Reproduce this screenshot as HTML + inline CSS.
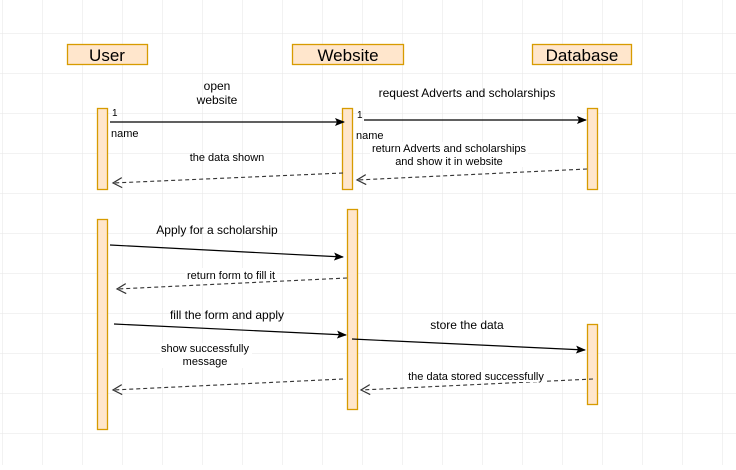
<!DOCTYPE html>
<html><head><style>
body{margin:0;width:736px;height:465px;overflow:hidden;background:#fff;font-family:"Liberation Sans",Arial,sans-serif;}
</style></head><body>
<svg width="736" height="465" xmlns="http://www.w3.org/2000/svg" font-family="Liberation Sans, Arial, sans-serif">
<defs>
<pattern id="g" x="2" y="33" width="40" height="40" patternUnits="userSpaceOnUse">
<path d="M0 0H40M0 0V40" stroke="#e6e6e6" stroke-width="1" fill="none"/>
</pattern>
<marker id="f" markerWidth="10" markerHeight="8" refX="9" refY="4" orient="auto" markerUnits="userSpaceOnUse"><path d="M0 0L10 4L0 8L2 4Z" fill="#000"/></marker>
<marker id="o" markerWidth="12" markerHeight="12" refX="10" refY="6" orient="auto" markerUnits="userSpaceOnUse"><path d="M1 1L10 6L1 11" fill="none" stroke="#333" stroke-width="1.2"/></marker>
</defs>
<rect width="736" height="465" fill="url(#g)"/>
<g fill="#ffe6cc" stroke="#d79b00" stroke-width="1.3">
<rect x="67.5" y="44.5" width="80" height="20"/>
<rect x="292.5" y="44.5" width="111" height="20"/>
<rect x="532.5" y="44.5" width="99" height="20"/>
<rect x="97.5" y="108.5" width="10" height="81"/>
<rect x="342.5" y="108.5" width="10" height="81"/>
<rect x="587.5" y="108.5" width="10" height="81"/>
<rect x="97.5" y="219.5" width="10" height="210"/>
<rect x="347.5" y="209.5" width="10" height="200"/>
<rect x="587.5" y="324.5" width="10" height="80"/>
</g>
<g font-size="17" fill="#000" text-anchor="middle">
<text x="107" y="61">User</text>
<text x="348" y="61">Website</text>
<text x="582" y="61">Database</text>
</g>
<g stroke="#000" stroke-width="1.2" fill="none">
<line x1="110" y1="122" x2="344" y2="122" marker-end="url(#f)"/>
<line x1="364" y1="120" x2="586" y2="120" marker-end="url(#f)"/>
<line x1="110" y1="245" x2="343" y2="257" marker-end="url(#f)"/>
<line x1="114" y1="324" x2="346" y2="335" marker-end="url(#f)"/>
<line x1="352" y1="339" x2="585" y2="350" marker-end="url(#f)"/>
</g>
<g stroke="#333" stroke-width="1.1" stroke-dasharray="4 3" fill="none">
<line x1="343" y1="173" x2="113" y2="183" marker-end="url(#o)"/>
<line x1="587" y1="169" x2="357" y2="180" marker-end="url(#o)"/>
<line x1="347" y1="278" x2="117" y2="289" marker-end="url(#o)"/>
<line x1="343" y1="379" x2="113" y2="390" marker-end="url(#o)"/>
<line x1="593" y1="379" x2="361" y2="390" marker-end="url(#o)"/>
</g>
<g fill="#fff">
<rect x="370" y="142" width="158" height="25"/>
<rect x="160" y="343" width="92" height="25"/>
<rect x="185" y="268" width="92" height="12"/>
<rect x="405" y="370" width="140" height="12"/>
</g>
<g font-size="12" fill="#000" text-anchor="middle">
<text x="217" y="90">open</text>
<text x="217" y="104">website</text>
<text x="467" y="97">request Adverts and scholarships</text>
<text x="217" y="234">Apply for a scholarship</text>
<text x="227" y="319">fill the form and apply</text>
<text x="467" y="329">store the data</text>
</g>
<g font-size="11" fill="#000" text-anchor="middle">
<text x="227" y="161">the data shown</text>
<text x="449" y="152">return Adverts and scholarships</text>
<text x="449" y="165">and show it in website</text>
<text x="231" y="279">return form to fill it</text>
<text x="205" y="352">show successfully</text>
<text x="205" y="365">message</text>
<text x="476" y="380">the data stored successfully</text>
</g>
<g font-size="11" fill="#000">
<text x="112" y="116" font-size="10">1</text>
<text x="111" y="137">name</text>
<text x="357" y="118" font-size="10">1</text>
<text x="356" y="139">name</text>
</g>
</svg>
</body></html>
